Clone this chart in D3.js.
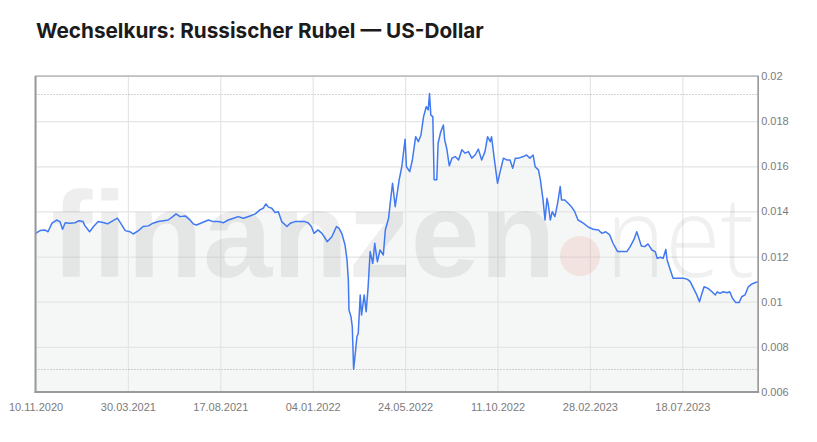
<!DOCTYPE html>
<html>
<head>
<meta charset="utf-8">
<script src="https://cdn.jsdelivr.net/npm/d3@7"></script>
<style>
  html, body { margin: 0; padding: 0; background: #fff; }
  svg { display: block; }
</style>
</head>
<body>
<svg id="chart" width="817" height="442"></svg>
<script>
const titleText = "Wechselkurs: Russischer Rubel \u2014 US-Dollar";
const xTickLabels = ["10.11.2020", "30.03.2021", "17.08.2021", "04.01.2022", "24.05.2022", "11.10.2022", "28.02.2023", "18.07.2023"];
const yTicks = [0.006, 0.008, 0.01, 0.012, 0.014, 0.016, 0.018, 0.02];
const xDomain = ["2020-11-10", "2023-11-10"];
const yDomain = [0.006, 0.02];

const dates = [
"2020-11-10","2020-11-17","2020-11-24","2020-11-29","2020-12-05","2020-12-12","2020-12-17","2020-12-21","2020-12-25",
"2021-01-01","2021-01-09","2021-01-15","2021-01-21","2021-01-24","2021-01-31","2021-02-06","2021-02-13","2021-02-22","2021-02-27",
"2021-03-05","2021-03-14","2021-03-19","2021-03-26","2021-04-02","2021-04-07","2021-04-15","2021-04-22","2021-04-30",
"2021-05-07","2021-05-15","2021-05-23","2021-05-30","2021-06-06","2021-06-11","2021-06-17","2021-06-25","2021-07-01",
"2021-07-07","2021-07-12","2021-07-20","2021-07-30","2021-08-06","2021-08-14","2021-08-22","2021-08-29","2021-09-06",
"2021-09-13","2021-09-21","2021-10-01","2021-10-09","2021-10-16","2021-10-21","2021-10-25","2021-10-29","2021-11-03",
"2021-11-08","2021-11-13","2021-11-18","2021-11-26","2021-12-01","2021-12-08","2021-12-16","2021-12-23","2021-12-28",
"2022-01-02","2022-01-06","2022-01-12","2022-01-18","2022-01-23","2022-01-26","2022-02-02","2022-02-09","2022-02-13",
"2022-02-17","2022-02-22","2022-02-25","2022-02-27","2022-02-28","2022-03-03","2022-03-05","2022-03-07","2022-03-09",
"2022-03-12","2022-03-14","2022-03-17","2022-03-19","2022-03-23","2022-03-26","2022-03-29","2022-04-01","2022-04-05",
"2022-04-08","2022-04-12","2022-04-16","2022-04-21","2022-04-24","2022-04-29","2022-05-02","2022-05-05","2022-05-09",
"2022-05-15","2022-05-19","2022-05-24","2022-05-26","2022-05-31","2022-06-04","2022-06-09","2022-06-13","2022-06-17",
"2022-06-21","2022-06-25","2022-06-28","2022-06-30","2022-07-02","2022-07-05","2022-07-07","2022-07-11","2022-07-13",
"2022-07-17","2022-07-21","2022-07-23","2022-07-26","2022-07-30","2022-08-03","2022-08-08","2022-08-13","2022-08-18",
"2022-08-23","2022-08-28","2022-09-02","2022-09-07","2022-09-12","2022-09-17","2022-09-22","2022-09-26","2022-09-30",
"2022-10-02","2022-10-06","2022-10-11","2022-10-15","2022-10-20","2022-10-25","2022-10-30","2022-11-03","2022-11-07",
"2022-11-12","2022-11-19","2022-11-24","2022-11-29","2022-12-04","2022-12-07","2022-12-12","2022-12-15","2022-12-19",
"2022-12-22","2022-12-25","2022-12-27","2022-12-30","2023-01-02","2023-01-06","2023-01-10","2023-01-14","2023-01-16",
"2023-01-21","2023-01-26","2023-01-31","2023-02-05","2023-02-10","2023-02-18","2023-02-26","2023-03-05","2023-03-13",
"2023-03-18","2023-03-24","2023-03-30","2023-04-04","2023-04-11","2023-04-17","2023-04-25","2023-04-30","2023-05-06",
"2023-05-10","2023-05-14","2023-05-17","2023-05-22","2023-05-27","2023-06-02","2023-06-07","2023-06-10","2023-06-15",
"2023-06-19","2023-06-23","2023-06-25","2023-06-29","2023-07-04","2023-07-12","2023-07-20","2023-07-26","2023-07-30",
"2023-08-04","2023-08-09","2023-08-13","2023-08-16","2023-08-20","2023-08-26","2023-09-01","2023-09-06","2023-09-09",
"2023-09-13","2023-09-18","2023-09-24","2023-09-28","2023-10-02","2023-10-07","2023-10-12","2023-10-16","2023-10-21",
"2023-10-26","2023-10-31","2023-11-05","2023-11-10"
];

const rates = [
0.01303,0.01315,0.01318,0.01310,0.01348,0.01362,0.01355,0.01321,0.01350,
0.01348,0.01350,0.01359,0.01355,0.01336,0.01310,0.01333,0.01355,0.01350,0.01345,
0.01355,0.01370,0.01348,0.01315,0.01310,0.01300,0.01315,0.01333,0.01336,
0.01348,0.01355,0.01359,0.01362,0.01377,0.01389,0.01377,0.01380,0.01365,
0.01345,0.01340,0.01350,0.01362,0.01355,0.01355,0.01350,0.01362,0.01370,
0.01377,0.01370,0.01380,0.01389,0.01407,0.01414,0.01433,0.01419,0.01414,
0.01395,0.01399,0.01355,0.01333,0.01348,0.01355,0.01355,0.01355,0.01350,
0.01333,0.01303,0.01318,0.01303,0.01281,0.01266,0.01288,0.01333,0.01325,
0.01303,0.01251,0.01185,0.01096,0.00963,0.00934,0.00889,0.00701,0.00757,
0.00845,0.00860,0.01030,0.00941,0.01030,0.00956,0.01066,0.01222,0.01170,
0.01259,0.01177,0.01229,0.01207,0.01318,0.01370,0.01451,0.01525,0.01421,
0.01540,0.01598,0.01720,0.01598,0.01576,0.01628,0.01731,0.01709,0.01739,
0.01820,0.01864,0.01850,0.01922,0.01827,0.01820,0.01540,0.01540,0.01702,
0.01753,0.01783,0.01717,0.01680,0.01602,0.01636,0.01643,0.01628,0.01673,
0.01658,0.01665,0.01636,0.01650,0.01676,0.01628,0.01665,0.01731,0.01709,
0.01731,0.01636,0.01525,0.01576,0.01636,0.01628,0.01628,0.01591,0.01636,
0.01636,0.01643,0.01650,0.01636,0.01650,0.01598,0.01584,0.01540,0.01451,
0.01362,0.01458,0.01429,0.01362,0.01399,0.01377,0.01436,0.01510,0.01451,
0.01451,0.01436,0.01421,0.01399,0.01362,0.01348,0.01330,0.01321,0.01318,
0.01303,0.01310,0.01296,0.01259,0.01222,0.01222,0.01222,0.01244,0.01277,
0.01310,0.01274,0.01247,0.01244,0.01256,0.01229,0.01222,0.01192,0.01197,
0.01192,0.01232,0.01185,0.01148,0.01104,0.01104,0.01104,0.01099,0.01089,
0.01059,0.01030,0.01000,0.01030,0.01066,0.01059,0.01044,0.01030,0.01044,
0.01037,0.01044,0.01040,0.01044,0.01015,0.00996,0.00996,0.01022,0.01030,
0.01066,0.01078,0.01084,0.01089
];

const parseISO = d3.utcParse("%Y-%m-%d");
const parseDE = d3.utcParse("%d.%m.%Y");
const fmtDE = d3.utcFormat("%d.%m.%Y");
const data = dates.map((d, i) => ({ date: parseISO(d), value: rates[i] }));

const svg = d3.select("#chart");
const L = 35.5, R = 758.2, T = 76, B = 392;

const x = d3.scaleUtc().domain(xDomain.map(parseISO)).range([L, R]);
const y = d3.scaleLinear().domain(yDomain).range([B, T]);

// title
const title = svg.append("text")
  .attr("x", 36).attr("y", 37.5)
  .attr("font-family", "Inter, Roboto, sans-serif")
  .attr("font-weight", 700)
  .attr("font-size", 21)
  .attr("fill", "#1b1b1b")
  .text(titleText);
const tl = title.node().getComputedTextLength();
title.attr("font-size", 21 * 448 / tl);

const plot = svg.append("g");
plot.append("clipPath").attr("id", "clip")
  .append("rect").attr("x", L).attr("y", T).attr("width", R - L).attr("height", B - T);

// background
plot.append("rect").attr("x", L).attr("y", T).attr("width", R - L).attr("height", B - T).attr("fill", "#fff");

// area fill
const area = d3.area().x(d => x(d.date)).y0(B).y1(d => y(d.value));
plot.append("path").datum(data).attr("d", area).attr("fill", "#f5f6f6").attr("clip-path", "url(#clip)");

// grid
const xTicks = xTickLabels.map(parseDE);
plot.append("g").attr("transform", `translate(0,${B})`)
  .call(d3.axisBottom(x).tickValues(xTicks).tickSize(-(B - T)).tickFormat(""))
  .call(g => g.select(".domain").remove())
  .call(g => g.selectAll("line").attr("stroke", "#e4e5e8").attr("stroke-width", 1.2));
plot.append("g").attr("transform", `translate(${L},0)`)
  .call(d3.axisLeft(y).tickValues(yTicks).tickSize(-(R - L)).tickFormat(""))
  .call(g => g.select(".domain").remove())
  .call(g => g.selectAll("line").attr("stroke", "#e4e5e8").attr("stroke-width", 1.2));

// watermark
const wm = plot.append("g").attr("clip-path", "url(#clip)");
wm.append("text")
  .attr("transform", "translate(51,277) scale(1.02,1)")
  .attr("font-family", "'Liberation Sans', Arial, sans-serif")
  .attr("font-weight", 700)
  .attr("font-size", 122)
  .attr("fill", "rgba(0,0,0,0.065)")
  .text("finanzen");
wm.append("circle").attr("cx", 580).attr("cy", 256).attr("r", 20)
  .attr("fill", "rgba(215,60,50,0.11)");
const net = wm.append("text")
  .attr("font-family", "'Open Sans', sans-serif")
  .attr("font-weight", 300)
  .attr("font-size", 112)
  .attr("fill", "rgba(0,0,0,0.06)")
  .text("net");
const nl = net.node().getComputedTextLength();
net.attr("transform", `translate(606,277) scale(${148 / nl},1)`);

// dotted max / min lines
const vmax = d3.max(rates), vmin = d3.min(rates);
[vmax, vmin].forEach(v => {
  plot.append("line")
    .attr("x1", L).attr("x2", R)
    .attr("y1", Math.round(y(v)) + 0.5).attr("y2", Math.round(y(v)) + 0.5)
    .attr("stroke", "#a8a8a8").attr("stroke-width", 1)
    .attr("stroke-dasharray", "1,2");
});

// line
const line = d3.line().x(d => x(d.date)).y(d => y(d.value));
plot.append("path").datum(data).attr("d", line)
  .attr("fill", "none").attr("stroke", "#4179f2").attr("stroke-width", 1.5)
  .attr("stroke-linejoin", "round").attr("clip-path", "url(#clip)");

// border
plot.append("rect").attr("x", L).attr("y", T).attr("width", R - L).attr("height", B - T)
  .attr("fill", "none").attr("stroke", "#9a9a9a").attr("stroke-width", 1);
plot.append("line").attr("x1", L).attr("x2", L).attr("y1", T).attr("y2", B + 1)
  .attr("stroke", "#9a9a9a").attr("stroke-width", 2);
plot.append("line").attr("x1", L - 1).attr("x2", R + 1).attr("y1", B).attr("y2", B)
  .attr("stroke", "#9a9a9a").attr("stroke-width", 2);
plot.append("line").attr("x1", R).attr("x2", R).attr("y1", T).attr("y2", B)
  .attr("stroke", "#9a9a9a").attr("stroke-width", 1.5);

// x axis labels
svg.append("g").attr("transform", `translate(0,${B})`)
  .call(d3.axisBottom(x).tickValues(xTicks).tickSize(0).tickPadding(11).tickFormat(fmtDE))
  .call(g => g.select(".domain").remove())
  .call(g => g.selectAll("text")
    .attr("font-family", "'Liberation Sans', Arial, sans-serif")
    .attr("font-size", 11).attr("fill", "#7b7b7b"));

// y axis labels (right)
svg.append("g").attr("transform", `translate(${R},0)`)
  .call(d3.axisRight(y).tickValues(yTicks).tickSize(0).tickPadding(3).tickFormat(d => String(+d.toFixed(3))))
  .call(g => g.select(".domain").remove())
  .call(g => g.selectAll("text")
    .attr("font-family", "'Liberation Sans', Arial, sans-serif")
    .attr("font-size", 11).attr("fill", "#7b7b7b"));
</script>
</body>
</html>
